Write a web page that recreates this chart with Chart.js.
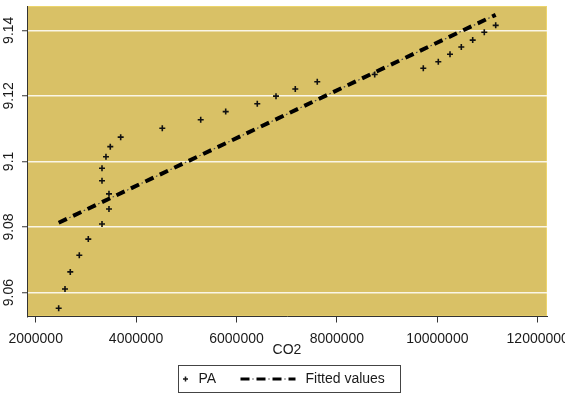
<!DOCTYPE html>
<html>
<head>
<meta charset="utf-8">
<script src="https://cdn.jsdelivr.net/npm/chart.js@4.4.1/dist/chart.umd.min.js"></script>
<style>
  html, body { margin: 0; padding: 0; background: #fff; }
  #wrap { width: 565px; height: 398px; position: relative; }
</style>
</head>
<body>
<div id="wrap"><canvas id="chartPA"></canvas></div>
<script>
// PA vs CO2, scatter + linear fit
const co2 = [2458000, 2584000, 2689000, 2869000, 3048000, 3321000, 3460000, 3460000,
  3321000, 3321000, 3400000, 3486000, 3693000, 4522000, 5287000, 5785000, 6414000,
  6787000, 7171000, 7609000, 8753000, 9721000, 10020000, 10253000, 10478000,
  10705000, 10936000, 11163000];
const pa = [9.0552, 9.0611, 9.0663, 9.0714, 9.0763, 9.0809, 9.0855, 9.0901,
  9.0941, 9.0979, 9.1014, 9.1045, 9.1074, 9.1101, 9.1127, 9.1152, 9.1176,
  9.1199, 9.1221, 9.1243, 9.1265, 9.1284, 9.1304, 9.1327, 9.1349,
  9.1370, 9.1394, 9.1415];
const fitCo2 = [2458000, 11163000];
const fitPa = [9.0813, 9.1447];
const xTicks = [2000000, 4000000, 6000000, 8000000, 10000000, 12000000];
const yTicks = [9.06, 9.08, 9.1, 9.12, 9.14];
const seriesNames = ['PA', 'Fitted values'];

const FONT = "'Liberation Sans', Arial, sans-serif";
const INK = '#1a1a1a';
const GOLD = '#d9c166';

const pts = co2.map((x, i) => ({ x, y: pa[i] }));
const fit = fitCo2.map((x, i) => ({ x, y: fitPa[i] }));

// gold plot region
const plotBg = {
  id: 'plotBg',
  beforeDraw(chart) {
    const { ctx, chartArea: a } = chart;
    ctx.save();
    ctx.fillStyle = GOLD;
    ctx.fillRect(a.left, a.top, a.right - a.left, a.bottom - a.top);
    ctx.strokeStyle = '#ecd56c';
    ctx.lineWidth = 1;
    ctx.strokeRect(a.left + 0.5, a.top + 0.5, a.right - a.left - 1, a.bottom - a.top - 1);
    ctx.restore();
  }
};

// boxed legend under the axis title
const boxLegend = {
  id: 'boxLegend',
  afterDraw(chart) {
    const { ctx } = chart;
    const bx = 178.5, by = 365.5, bw = 222, bh = 27;
    const my = by + bh / 2;
    ctx.save();
    ctx.fillStyle = '#fff';
    ctx.fillRect(bx, by, bw, bh);
    ctx.strokeStyle = '#444';
    ctx.lineWidth = 1;
    ctx.strokeRect(bx, by, bw, bh);

    // + marker
    ctx.strokeStyle = INK;
    ctx.lineWidth = 1.5;
    ctx.beginPath();
    ctx.moveTo(bx + 4.5, my); ctx.lineTo(bx + 9.5, my);
    ctx.moveTo(bx + 7, my - 2.5); ctx.lineTo(bx + 7, my + 2.5);
    ctx.stroke();

    // dash-dot sample
    ctx.strokeStyle = '#000';
    ctx.lineWidth = 3;
    ctx.setLineDash([9, 7]);
    ctx.beginPath();
    ctx.moveTo(bx + 62, my); ctx.lineTo(bx + 117, my);
    ctx.stroke();
    ctx.strokeStyle = '#444';
    ctx.lineWidth = 1.2;
    ctx.setLineDash([1.5, 14.5]);
    ctx.lineDashOffset = 4.25;
    ctx.beginPath();
    ctx.moveTo(bx + 62, my); ctx.lineTo(bx + 117, my);
    ctx.stroke();
    ctx.setLineDash([]);

    ctx.fillStyle = INK;
    ctx.font = '14px ' + FONT;
    ctx.textBaseline = 'middle';
    ctx.textAlign = 'left';
    ctx.fillText(seriesNames[0], bx + 20, my + 0.5);
    ctx.fillText(seriesNames[1], bx + 127, my + 0.5);
    ctx.restore();
  }
};

new Chart(document.getElementById('chartPA'), {
  type: 'scatter',
  data: {
    datasets: [
      {
        label: seriesNames[0],
        data: pts,
        pointStyle: 'cross',
        pointRadius: 3,
        pointBorderWidth: 1.6,
        borderColor: '#111',
        backgroundColor: '#111'
      },
      {
        label: seriesNames[1],
        type: 'line',
        data: fit,
        showLine: true,
        pointRadius: 0,
        borderColor: '#000',
        borderWidth: 4,
        borderDash: [9, 7],
        fill: false
      },
      {
        label: seriesNames[1],
        type: 'line',
        data: fit,
        showLine: true,
        pointRadius: 0,
        borderColor: '#444',
        borderWidth: 1.2,
        borderDash: [1.5, 14.5],
        borderDashOffset: 4.25,
        fill: false
      }
    ]
  },
  options: {
    responsive: true,
    maintainAspectRatio: false,
    animation: false,
    layout: { padding: { left: 0, top: 6, right: 18, bottom: 36 } },
    plugins: {
      legend: { display: false },
      tooltip: { enabled: false }
    },
    scales: {
      x: {
        type: 'linear',
        min: 1827000,
        max: 12185000,
        afterBuildTicks: s => { s.ticks = xTicks.map(v => ({ value: v })); },
        afterFit: s => { s.height = 45.5; s.paddingLeft = 0; s.paddingRight = 0; },
        grid: { drawOnChartArea: false, drawTicks: true, tickLength: 6, tickColor: '#333', tickWidth: 1 },
        border: { display: true, color: '#333', width: 1 },
        ticks: {
          autoSkip: false,
          maxRotation: 0,
          padding: 8,
          color: INK,
          font: { family: FONT, size: 14 },
          callback: v => String(v)
        },
        title: {
          display: true,
          text: 'CO2',
          color: INK,
          font: { family: FONT, size: 14 },
          padding: { top: 0, bottom: 3 }
        }
      },
      y: {
        type: 'linear',
        min: 9.0527,
        max: 9.1474,
        afterBuildTicks: s => { s.ticks = yTicks.map(v => ({ value: v })); },
        afterFit: s => { s.width = 27; s.paddingTop = 0; s.paddingBottom = 0; },
        grid: { color: '#faf6e6', lineWidth: 1.5, drawTicks: true, tickLength: 5, tickColor: '#333', tickWidth: 1 },
        border: { display: true, color: '#333', width: 1 },
        ticks: {
          autoSkip: false,
          minRotation: 90,
          maxRotation: 90,
          crossAlign: 'center',
          padding: -1,
          color: INK,
          font: { family: FONT, size: 14 },
          callback: v => String(+v.toFixed(2))
        }
      }
    }
  },
  plugins: [plotBg, boxLegend]
});
</script>
</body>
</html>
